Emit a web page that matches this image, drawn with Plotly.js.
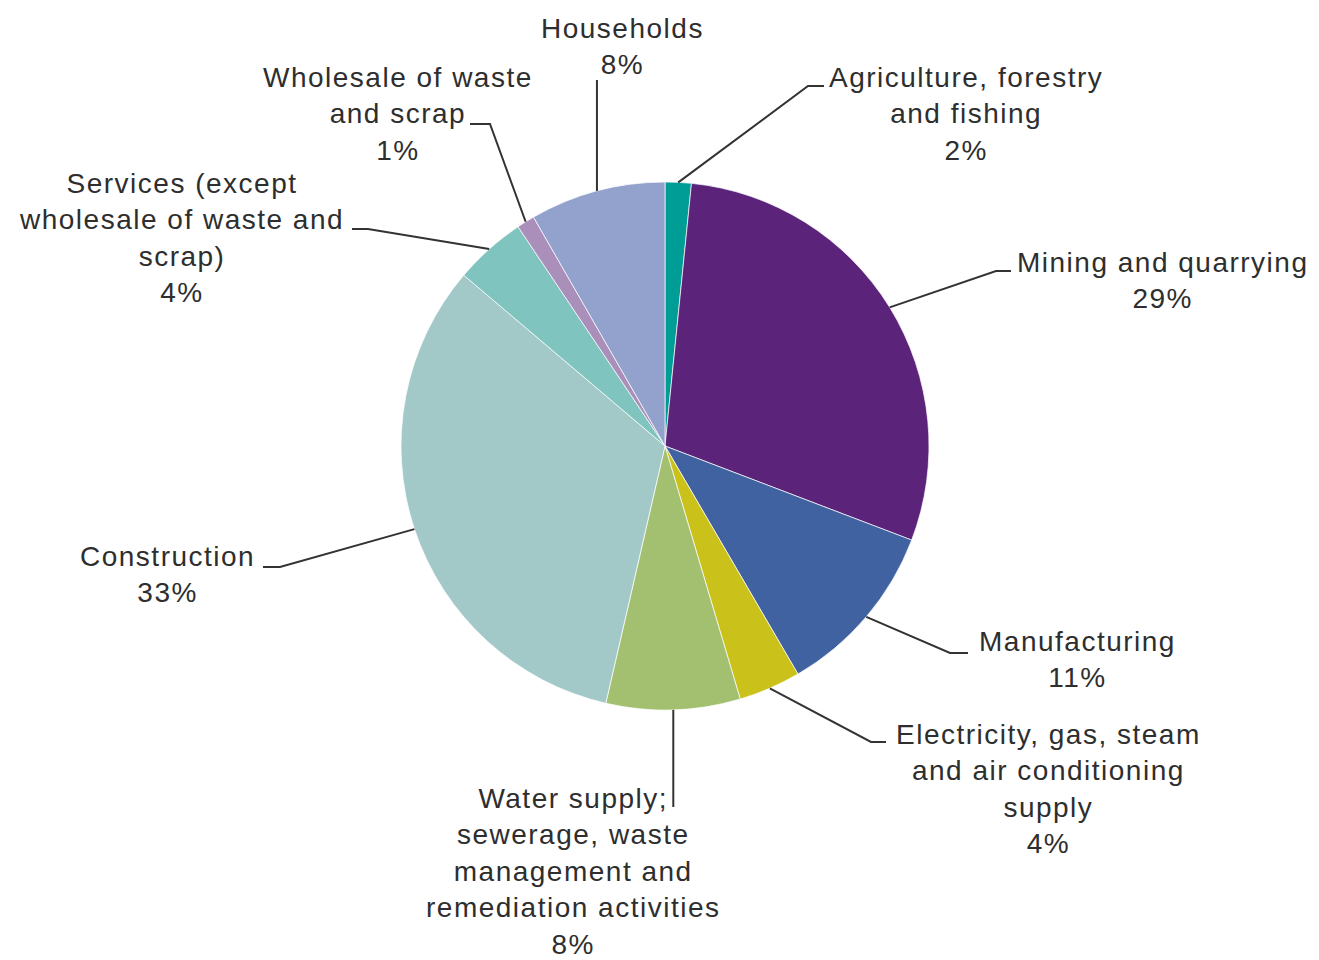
<!DOCTYPE html>
<html>
<head>
<meta charset="utf-8">
<script src="https://cdn.plot.ly/plotly-3.0.1.min.js"></script>
<style>
html,body{margin:0;padding:0;background:#fff;}
#chart{width:1319px;height:960px;}
.annotation-text{letter-spacing:1.5px;}
</style>
</head>
<body>
<div id="chart"></div>
<script>
// ---- data ----
const categories = [
  'Agriculture, forestry and fishing',
  'Mining and quarrying',
  'Manufacturing',
  'Electricity, gas, steam and air conditioning supply',
  'Water supply; sewerage, waste management and remediation activities',
  'Construction',
  'Services (except wholesale of waste and scrap)',
  'Wholesale of waste and scrap',
  'Households'
];
const labelLines = [
  ['Agriculture, forestry', 'and fishing'],
  ['Mining and quarrying'],
  ['Manufacturing'],
  ['Electricity, gas, steam', 'and air conditioning', 'supply'],
  ['Water supply;', 'sewerage, waste', 'management and', 'remediation activities'],
  ['Construction'],
  ['Services (except', 'wholesale of waste and', 'scrap)'],
  ['Wholesale of waste', 'and scrap'],
  ['Households']
];
const shares = [1.6, 29.2, 10.8, 3.8, 8.2, 32.6, 4.4, 1.1, 8.3];
const colors = ['#009c96', '#5b237a', '#4162a0', '#cbc11b', '#a3c070', '#a2c9c8', '#80c4bf', '#a98fb9', '#92a2cd'];

// ---- layout settings (pixels) ----
const W = 1319, H = 960;
const CX = 665, CY = 446, R = 264;
// text block centre, leader elbow and leader end for each label
const labelPos = [
  {tx: 966,  ty: 114,   elbow: [808, 86],  end: [824, 86]},
  {tx: 1163, ty: 280.5, elbow: [996, 271], end: [1011, 271]},
  {tx: 1077, ty: 659,   elbow: [950, 653], end: [968, 653]},
  {tx: 1048, ty: 789,   elbow: [871, 742], end: [886, 742]},
  {tx: 573,  ty: 871,   elbow: [null, 807], end: null},
  {tx: 167,  ty: 574.5, elbow: [280, 567], end: [263, 567]},
  {tx: 181,  ty: 238,   elbow: [368, 229], end: [352, 229]},
  {tx: 398,  ty: 114,   elbow: [490, 124], end: [470, 124]},
  {tx: 622,  ty: 46.5,  elbow: [null, 80], end: null}
];

const px = x => x / W;
const py = y => 1 - y / H;

const total = shares.reduce((a, b) => a + b, 0);
const pct = shares.map(v => Math.round(v / total * 100) + '%');

const annotations = [];
const shapes = [];
let cum = 0;
shares.forEach((v, i) => {
  const mid = (cum + v / 2) / total;
  cum += v;
  const ang = mid * 2 * Math.PI;
  const ax = CX + R * Math.sin(ang);
  const ay = CY - R * Math.cos(ang);
  const p = labelPos[i];
  const ex = p.elbow[0] === null ? ax : p.elbow[0];
  const ey = p.elbow[1];
  let path = `M ${px(ax)} ${py(ay)} L ${px(ex)} ${py(ey)}`;
  if (p.end) path += ` L ${px(p.end[0])} ${py(p.end[1])}`;
  shapes.push({
    type: 'path', xref: 'paper', yref: 'paper', path: path,
    line: {color: '#333333', width: 2}
  });
  annotations.push({
    xref: 'paper', yref: 'paper', x: px(p.tx), y: py(p.ty),
    xanchor: 'center', yanchor: 'middle', showarrow: false, align: 'center',
    text: labelLines[i].concat([pct[i]]).join('<br>'),
    font: {family: 'Liberation Sans, Arial, sans-serif', size: 28, color: '#2e2e2e'}
  });
});

const trace = {
  type: 'pie',
  labels: categories,
  values: shares,
  sort: false,
  direction: 'clockwise',
  rotation: 0,
  textinfo: 'none',
  hoverinfo: 'label+percent',
  marker: {colors: colors, line: {color: 'rgba(255,255,255,0.7)', width: 1}},
  domain: {x: [px(CX - R), px(CX + R)], y: [py(CY + R), py(CY - R)]},
  showlegend: false
};

const layout = {
  width: W, height: H,
  margin: {l: 0, r: 0, t: 0, b: 0},
  paper_bgcolor: '#ffffff',
  plot_bgcolor: '#ffffff',
  showlegend: false,
  annotations: annotations,
  shapes: shapes
};

Plotly.newPlot('chart', [trace], layout, {displayModeBar: false, staticPlot: true});
</script>
</body>
</html>
